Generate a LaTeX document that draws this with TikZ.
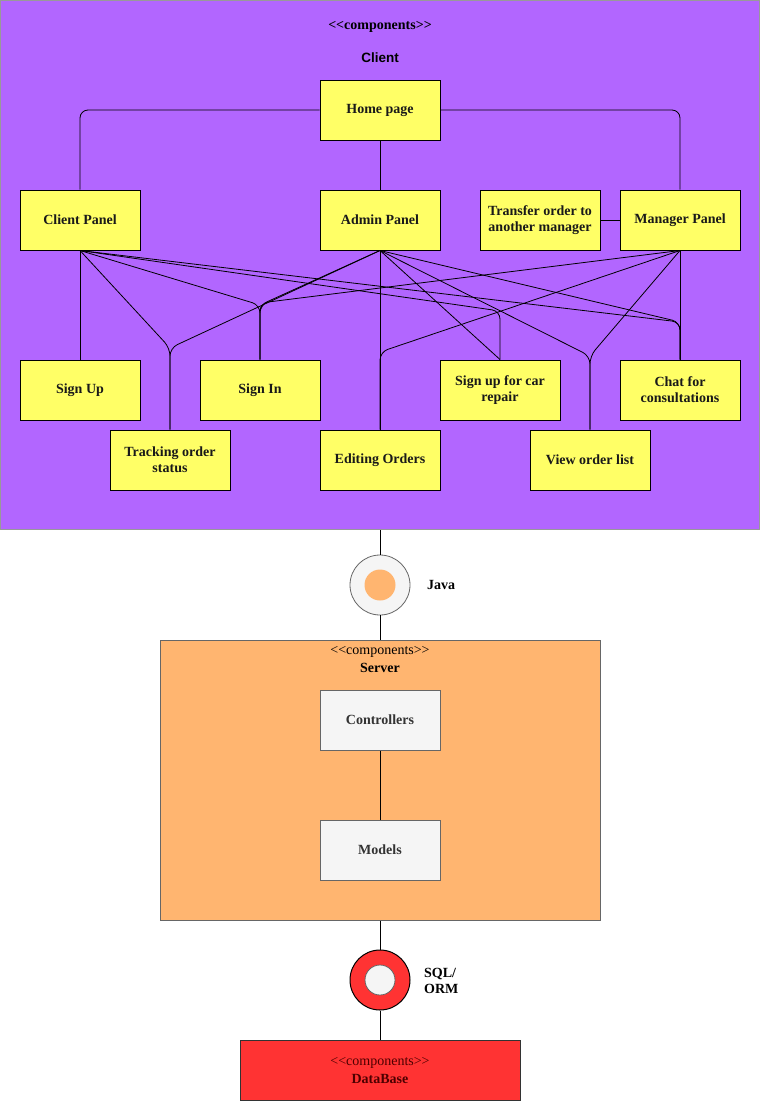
\documentclass[tikz,border=0pt]{standalone}
\usepackage{fontspec}
\setmainfont{Liberation Serif}
\newfontfamily\sansb{Liberation Sans}
\definecolor{purp}{HTML}{B266FF}
\definecolor{yel}{HTML}{FFFF66}
\definecolor{orng}{HTML}{FFB570}
\definecolor{redd}{HTML}{FF3333}
\definecolor{lgr}{HTML}{F5F5F5}
\definecolor{dgr}{HTML}{666666}
\definecolor{txtg}{HTML}{333333}
\definecolor{dbtxt}{HTML}{4D0000}
\newcommand\cmps{<\kern0pt<components>\kern0pt>}
\begin{document}
\begin{tikzpicture}[x=1pt,y=-1pt,
  ybox/.style={draw=black,line width=1pt,fill=yel,minimum width=120pt,minimum height=60pt,inner sep=0pt,align=center,font=\bfseries\fontsize{14}{16}\selectfont,text=black!90},
  gbox/.style={draw=dgr,line width=1pt,fill=lgr,minimum width=120pt,minimum height=60pt,inner sep=0pt,align=center,font=\bfseries\fontsize{14}{16}\selectfont,text=txtg},
  conn/.style={draw=black,line width=0.8pt,rounded corners=8pt},
  lbl/.style={inner sep=0pt,align=left,font=\bfseries\fontsize{14}{16}\selectfont}
]
\useasboundingbox (0,0) rectangle (761,1101);
% containers
\node[draw=gray!80,line width=1pt,fill=purp,minimum width=759pt,minimum height=529pt,inner sep=0pt] (clientc) at (380,265) {};
\node[inner sep=0pt,font=\bfseries\fontsize{14}{16}\selectfont] (cmp1) at (380,27) {\cmps};
\node[inner sep=0pt,font=\sansb\bfseries\fontsize{13.5}{16}\selectfont] (cname) at (380,58) {Client};

\node[draw=dgr,line width=1pt,fill=orng,minimum width=440pt,minimum height=280pt,inner sep=0pt] (server) at (380,780) {};
\node[inner sep=0pt,font=\fontsize{14}{16}\selectfont] (cmp2) at (380,652) {\cmps};
\node[inner sep=0pt,font=\bfseries\fontsize{14}{16}\selectfont] (sname) at (380,668) {Server};

\node[draw=black!80,line width=1pt,fill=redd,minimum width=280pt,minimum height=60pt,inner sep=0pt] (db) at (380,1070) {};
\node[inner sep=0pt,text=dbtxt,font=\fontsize{14}{16}\selectfont] (cmp3) at (380,1063) {\cmps};
\node[inner sep=0pt,text=dbtxt,font=\bfseries\fontsize{14}{16}\selectfont] (dbname) at (380,1079) {DataBase};

% client nodes
\node[ybox] (home) at (380,110) {Home page};
\node[ybox] (clientp) at (80,220) {Client Panel};
\node[ybox] (admin) at (380,220) {Admin Panel};
\node[ybox] (transfer) at (540,220) {Transfer order to\\another manager};
\node[ybox] (manager) at (680,220) {Manager Panel};
\node[ybox] (signup) at (80,390) {Sign Up};
\node[ybox] (signin) at (260,390) {Sign In};
\node[ybox] (repair) at (500,390) {Sign up for car\\repair};
\node[ybox] (chat) at (680,390) {Chat for\\consultations};
\node[ybox] (track) at (170,460) {Tracking order\\status};
\node[ybox] (edit) at (380,460) {Editing Orders};
\node[ybox] (view) at (590,460) {View order list};

% server nodes
\node[gbox] (ctrl) at (380,720) {Controllers};
\node[gbox] (models) at (380,850) {Models};

% interfaces
\node[circle,draw=dgr,line width=0.8pt,fill=lgr,minimum size=60pt,inner sep=0pt] (java) at (380,585) {};
\node[circle,fill=orng,minimum size=31pt,inner sep=0pt] (javain) at (380,585) {};
\node[lbl,anchor=west] (javal) at (427,585) {Java};

\node[circle,draw=black,line width=1pt,fill=redd,minimum size=60pt,inner sep=0pt] (sql) at (380,980) {};
\node[circle,draw=dgr,line width=0.8pt,fill=lgr,minimum size=30pt,inner sep=0pt] (sqlin) at (380,980) {};
\node[lbl,anchor=west] (sqll) at (424,981) {SQL/\\ORM};

% connectors top
\draw[conn] (home.west) -| (clientp.north);
\draw[conn] (home.south) -- (admin.north);
\draw[conn] (home.east) -| (manager.north);
\draw[conn] (transfer.east) -- (manager.west);

\draw[conn] (clientp.south) -- (signup.north);
\draw[conn] (clientp.south) -- (170,348) -- (track.north);
\draw[conn] (admin.south) -- (170,348) -- (track.north);
\draw[conn] (clientp.south) -- (260,305) -- (signin.north);
\draw[conn] (admin.south) -- (260,305) -- (signin.north);
\draw[conn] (manager.south) -- (260,303) -- (signin.north);
\draw[conn] (clientp.south) -- (500,311) -- (repair.north);
\draw[conn] (admin.south) -- (repair.north);
\draw[conn] (clientp.south) -- (680,322) -- (chat.north);
\draw[conn] (admin.south) -- (680,322) -- (chat.north);
\draw[conn] (manager.south) -- (chat.north);
\draw[conn] (admin.south) -- (590,356) -- (view.north);
\draw[conn] (manager.south) -- (590,356) -- (view.north);
\draw[conn] (manager.south) -- (380,352) -- (edit.north);
\draw[conn] (admin.south) -- (edit.north);

% lower connectors
\draw[conn] (clientc.south) -- (java.north);
\draw[conn] (java.south) -- (server.north);
\draw[conn] (ctrl.south) -- (models.north);
\draw[conn] (server.south) -- (sql.north);
\draw[conn] (sql.south) -- (db.north);
\end{tikzpicture}
\end{document}
